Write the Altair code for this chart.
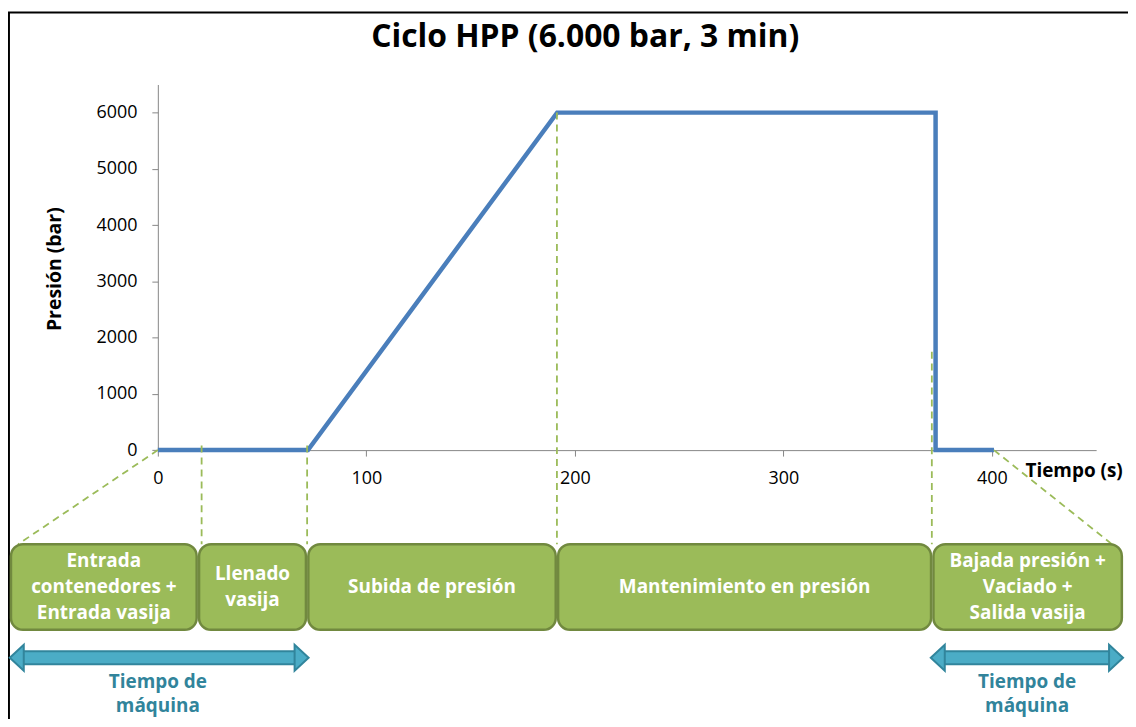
import altair as alt
import pandas as pd

# --- pressure cycle ---
time_s = [0, 72, 191.5, 373, 373, 401]
pressure_bar = [0, 0, 6000, 6000, 0, 0]

# --- axis ticks / extents ---
x_ticks = [0, 100, 200, 300, 400]
y_ticks = [0, 1000, 2000, 3000, 4000, 5000, 6000]
x_domain = [0, 450]
y_domain = [0, 6500]

# --- phases (schematic boxes under the axis) ---
phase_labels = [
    "Entrada\ncontenedores +\nEntrada vasija",
    "Llenado\nvasija",
    "Subida de presión",
    "Mantenimiento en presión",
    "Bajada presión +\nVaciado +\nSalida vasija",
]
phase_start = [-71, 19.2, 71.6, 191.4, 371.4]
phase_end = [19.2, 71.6, 191.4, 371.4, 462.9]
phase_top = -1673
phase_bottom = -3195

# --- dashed guide lines ---
guide_x_from = [21, 71.6, 191.4, 371.2, 0, 401]
guide_y_from = [80, 80, 6000, 1750, 0, 0]
guide_x_to = [21, 71.6, 191.4, 371.2, -67, 457.6]
guide_y_to = [-1673, -1673, -1673, -1673, -1673, -1673]

# --- machine-time arrows ---
arrow_from = [-71, 370.7]
arrow_to = [72.3, 462.9]
arrow_y = -3690
arrow_text = "Tiempo de\nmáquina"
arrow_text_x = [0, 416.9]
arrow_text_y = -4115

# --- outer frame ---
frame_x = [-71.4, 520]
frame_y = [7779, -7000]

FONT = "Open Sans"
PX_PER_Y = 367.25 / 6500  # vertical pixels per bar unit (for line spacing)
xs = alt.Scale(domain=x_domain, nice=False, zero=False)
ys = alt.Scale(domain=y_domain, nice=False, zero=False)

line_df = pd.DataFrame({"t": time_s, "p": pressure_bar, "i": list(range(len(time_s)))})
guide_df = pd.DataFrame({"x": guide_x_from, "y": guide_y_from, "x2": guide_x_to, "y2": guide_y_to})
phase_df = pd.DataFrame({
    "label": phase_labels, "start": phase_start, "end": phase_end,
    "top": [phase_top] * 5, "bottom": [phase_bottom] * 5,
})
phase_df["mid"] = (phase_df["start"] + phase_df["end"]) / 2
phase_df["n"] = phase_df["label"].str.count("\n") + 1
BOX_LH = 26
phase_df["first"] = (phase_df["top"] + phase_df["bottom"]) / 2 + (phase_df["n"] - 1) / 2 * BOX_LH / PX_PER_Y

shaft_df = pd.DataFrame({"a": [a + 5 for a in arrow_from], "b": [b - 5 for b in arrow_to],
                         "y": [arrow_y] * 2})
head_df = pd.DataFrame({
    "x": arrow_from + arrow_to,
    "dir": ["left", "left", "right", "right"],
    "y": [arrow_y] * 4,
})
arrow_text_df = pd.DataFrame({"x": arrow_text_x, "y": [arrow_text_y] * 2, "label": [arrow_text] * 2})
frame_df = pd.DataFrame({"x": [frame_x[0]], "x2": [frame_x[1]], "y": [frame_y[0]], "y2": [frame_y[1]]})

axis_x = alt.Axis(values=x_ticks, format="d", domain=True, domainColor="#868686", domainWidth=1,
                  grid=False, tickSize=6, tickColor="#868686", labelFont=FONT, labelFontSize=18,
                  labelColor="black", labelPadding=14, labelFlush=False,
                  title="Tiempo (s)", titleX=871, titleY=21, titleAlign="left",
                  titleBaseline="middle", titleFont=FONT, titleFontSize=19,
                  titleFontWeight="bold", titleColor="black")
axis_y = alt.Axis(values=y_ticks, format="d", domain=True, domainColor="#868686", domainWidth=1,
                  grid=False, tickSize=6, tickColor="#868686", labelFont=FONT, labelFontSize=18,
                  labelColor="black", labelPadding=15,
                  title="Presión (bar)", titleX=-103.5, titleY=185,
                  titleAngle=270, titleAlign="center", titleBaseline="middle",
                  titleFont=FONT, titleFontSize=19.5, titleFontWeight="bold", titleColor="black")


def X(field):
    return alt.X(field, scale=xs, axis=axis_x)


def Y(field):
    return alt.Y(field, scale=ys, axis=axis_y)


pressure = alt.Chart(line_df).mark_line(color="#4a7ebb", strokeWidth=4.5, strokeJoin="miter",
                                        clip=False).encode(
    x=X("t:Q"), y=Y("p:Q"), order="i:Q")

frame = alt.Chart(frame_df).mark_rect(fill="white", fillOpacity=0, stroke="black", strokeWidth=2,
                                      clip=False).encode(
    x=X("x:Q"), x2="x2:Q", y=Y("y:Q"), y2="y2:Q")

guides = alt.Chart(guide_df).mark_rule(color="#9bbb59", strokeWidth=1.8, strokeDash=[7, 5],
                                       clip=False).encode(
    x=X("x:Q"), x2="x2:Q", y=Y("y:Q"), y2="y2:Q")

boxes = alt.Chart(phase_df).mark_rect(cornerRadius=12, fill="#9bbb59", stroke="#71893f",
                                      strokeWidth=2.5, xOffset=1.2, x2Offset=-1.2,
                                      clip=False).encode(
    x=X("start:Q"), x2="end:Q", y=Y("top:Q"), y2="bottom:Q")

box_text = alt.Chart(phase_df).mark_text(font=FONT, fontWeight="bold", fontSize=19, color="white",
                                         lineBreak="\n", lineHeight=BOX_LH, align="center",
                                         baseline="middle", clip=False).encode(
    x=X("mid:Q"), y=Y("first:Q"), text="label:N")

shaft_outer = alt.Chart(shaft_df).mark_rule(color="#31859c", strokeWidth=15, clip=False).encode(
    x=X("a:Q"), x2="b:Q", y=Y("y:Q"))
shaft_inner = alt.Chart(shaft_df).mark_rule(color="#4bacc6", strokeWidth=11, clip=False).encode(
    x=X("a:Q"), x2="b:Q", y=Y("y:Q"))

heads = alt.Chart(head_df).mark_point(filled=True, size=676, fill="#4bacc6", stroke="#31859c",
                                      strokeWidth=2, opacity=1, clip=False).encode(
    x=X("x:Q"), y=Y("y:Q"),
    shape=alt.Shape("dir:N", scale=alt.Scale(domain=["left", "right"],
                                             range=["M 0 0 L 1.08 -1 L 1.08 1 Z",
                                                    "M 0 0 L -1.08 -1 L -1.08 1 Z"]),
                    legend=None))

arrow_labels = alt.Chart(arrow_text_df).mark_text(font=FONT, fontWeight="bold", fontSize=19,
                                                  color="#31849b", lineBreak="\n", lineHeight=25,
                                                  align="center", baseline="middle",
                                                  clip=False).encode(
    x=X("x:Q"), y=Y("y:Q"), text="label:N")

chart = alt.layer(
    pressure, frame, guides, boxes, box_text, shaft_outer, shaft_inner, heads, arrow_labels
).properties(
    width=942.5, height=367.25,
    padding={"left": 150.5, "top": 75.25, "right": 32, "bottom": 268.5},
    autosize=alt.AutoSizeParams(type="none"),
    title=alt.TitleParams("Ciclo HPP (6.000 bar, 3 min)", font=FONT, fontSize=32,
                          fontWeight="bold", color="black", anchor="middle", frame="group",
                          offset=-68, baseline="alphabetic", dx=-42),
).configure(font=FONT).configure_view(stroke="transparent", strokeWidth=0)

chart.save("out.html", embed_options={"renderer": "svg", "actions": False})
